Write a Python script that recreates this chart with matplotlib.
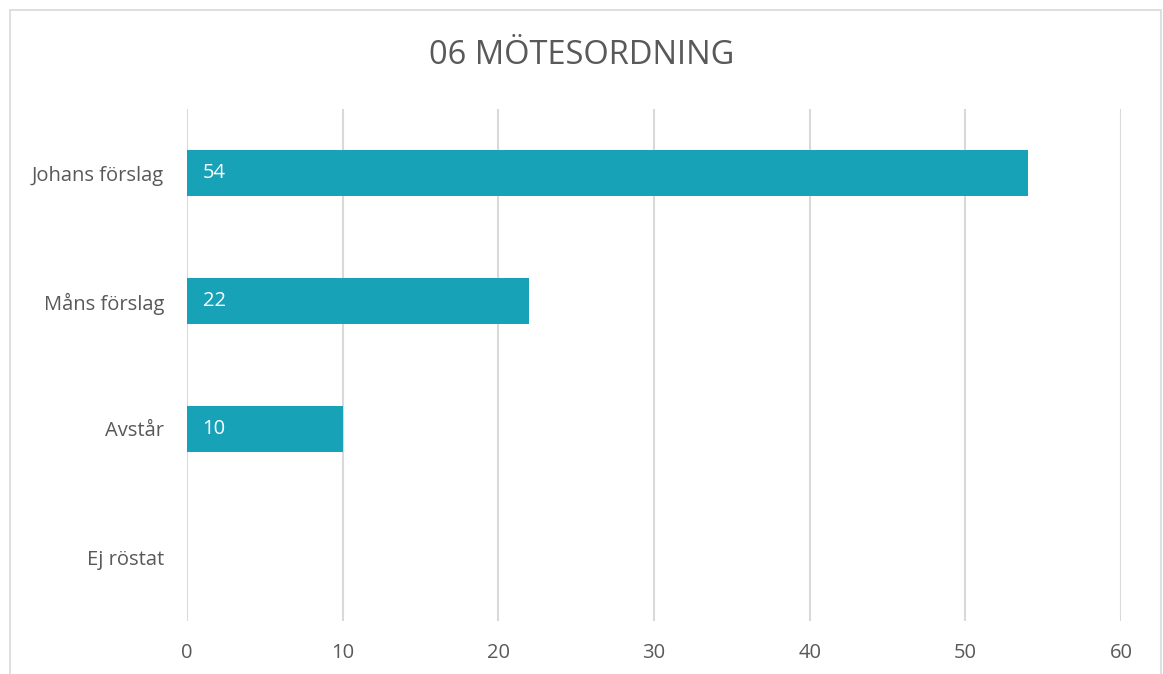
import matplotlib.pyplot as plt
from matplotlib.patches import Rectangle

# Data (top to bottom)
categories = ["Johans förslag", "Måns förslag", "Avstår", "Ej röstat"]
votes = [54, 22, 10, 0]
x_ticks = [0, 10, 20, 30, 40, 50, 60]

bar_color = "#17a2b8"
grid_color = "#d9d9d9"
text_color = "#595959"

plt.rcParams["font.family"] = ["Open Sans", "DejaVu Sans"]

W, H = 1163, 674
fig = plt.figure(figsize=(W / 100, H / 100), dpi=100)
ax = fig.add_axes([187 / W, 1 - 621 / H, (1121 - 187) / W, (621 - 109) / H])

# chart border (bottom edge falls outside the image)
fig.patches.append(Rectangle((10 / W, -0.05), (1161 - 10) / W, 1.05 - 10 / H,
                             transform=fig.transFigure, fill=False,
                             edgecolor=grid_color, linewidth=1.2))

ypos = list(range(len(categories)))
ax.barh(ypos, votes, height=0.36, color=bar_color, zorder=2)

# value labels inside bars at the base
for y, v in zip(ypos, votes):
    if v > 0:
        ax.text(1.0, y, str(v), color="white", fontsize=14.5,
                va="center", ha="left", zorder=3)

ax.set_xlim(0, 60)
ax.set_ylim(len(categories) - 0.5, -0.5)
ax.set_xticks(x_ticks)
ax.set_yticks(ypos)
ax.set_yticklabels(categories)
ax.tick_params(axis="both", length=0, labelsize=14.5, colors=text_color)
ax.tick_params(axis="x", pad=16)
ax.tick_params(axis="y", pad=16.5)

ax.grid(axis="x", color=grid_color, linewidth=1.5, zorder=0)
for s in ax.spines.values():
    s.set_visible(False)

fig.text(0.5, 1 - 56 / H, "06 MÖTESORDNING", ha="center", va="center",
         fontsize=23.5, color=text_color)

fig.savefig("out.png", dpi=100)
